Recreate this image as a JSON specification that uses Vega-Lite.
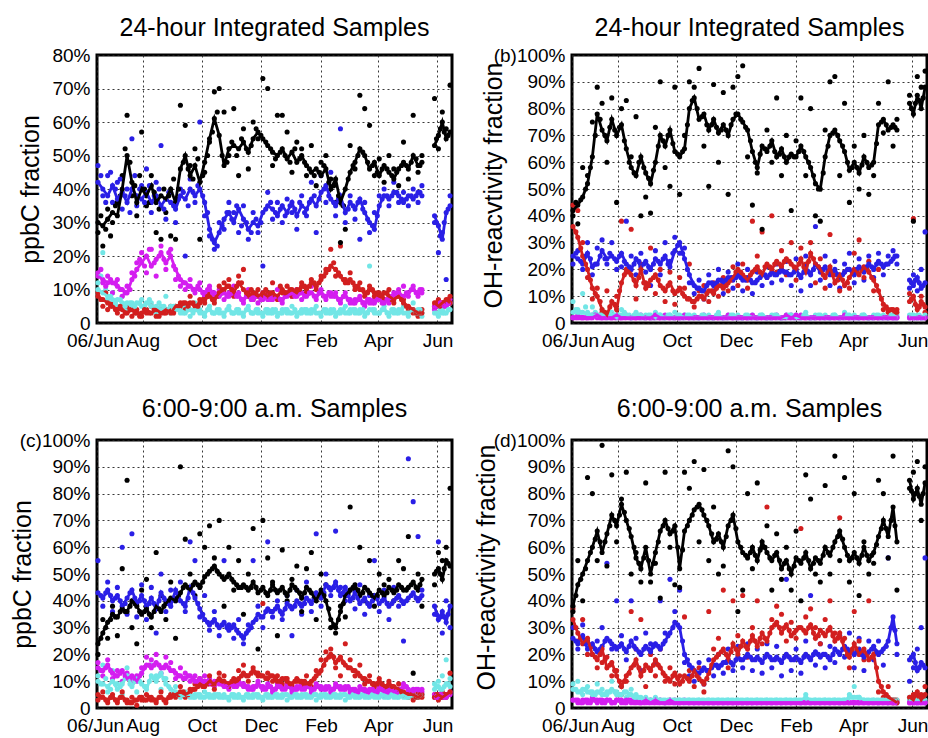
{
"$schema":"https://vega.github.io/schema/vega-lite/v6.json",
"padding":{"left":8,"top":14,"right":2,"bottom":2},
"background":"white",
"config":{
"font":"Liberation Sans",
"view":{"stroke":"black","strokeWidth":3},
"axis":{"labelFont":"Liberation Sans","labelFontSize":19,"labelColor":"#000","titleFont":"Liberation Sans","titleFontWeight":"normal","titleFontSize":25,"titleColor":"#000","grid":true,"gridColor":"#222","gridDash":[2,3],"gridWidth":1,"gridOpacity":0.9,"domain":false,"ticks":false},
"axisX":{"labelPadding":8,"labelFlush":false,"labelOverlap":false},
"axisY":{"labelPadding":7,"labelOverlap":false},
"title":{"font":"Liberation Sans","fontSize":25,"fontWeight":"normal","color":"#000","anchor":"middle","offset":5}
},
"datasets":{"v":[
{"p":"a","d":"2006-06-16","K":30,"B":42,"M":14,"R":8,"C":10,"k":27,"b":47,"m":15,"r":9,"c":12},
{"p":"a","d":"2006-06-21","K":29,"B":40,"M":13,"R":7,"C":9,"k":23,"b":38,"m":12,"r":5,"c":21},
{"p":"a","d":"2006-06-26","K":31,"B":38,"M":12,"R":6,"C":8,"k":34,"b":44,"m":14,"r":4,"c":7},
{"p":"a","d":"2006-07-01","K":33,"B":41,"M":12,"R":5,"C":7,"k":30,"b":36,"m":9,"r":6,"c":9},
{"p":"a","d":"2006-07-06","K":32,"B":37,"M":11,"R":4,"C":7,"k":36,"b":42,"m":13,"r":3,"c":5},
{"p":"a","d":"2006-07-11","K":40,"B":39,"M":10,"R":4,"C":6,"k":44,"b":34,"m":8,"r":2,"c":8},
{"p":"a","d":"2006-07-16","K":50,"B":36,"M":9,"R":3,"C":6,"k":62,"b":40,"m":11,"r":5,"c":4},
{"p":"a","d":"2006-07-21","K":42,"B":40,"M":13,"R":4,"C":5,"k":38,"b":55,"m":15,"r":2,"c":6},
{"p":"a","d":"2006-07-26","K":36,"B":38,"M":16,"R":3,"C":6,"k":32,"b":35,"m":18,"r":4,"c":3},
{"p":"a","d":"2006-07-31","K":40,"B":37,"M":18,"R":3,"C":5,"k":57,"b":41,"m":21,"r":2,"c":7},
{"p":"a","d":"2006-08-05","K":38,"B":39,"M":20,"R":4,"C":6,"k":35,"b":46,"m":15,"r":3,"c":4},
{"p":"a","d":"2006-08-10","K":41,"B":36,"M":17,"R":3,"C":5,"k":44,"b":33,"m":22,"r":5,"c":6},
{"p":"a","d":"2006-08-15","K":36,"B":38,"M":19,"R":4,"C":5,"k":27,"b":42,"m":14,"r":2,"c":3},
{"p":"a","d":"2006-08-20","K":38,"B":35,"M":21,"R":3,"C":4,"k":25,"b":53,"m":23,"r":4,"c":5},
{"p":"a","d":"2006-08-25","K":37,"B":37,"M":18,"R":4,"C":4,"k":33,"b":31,"m":16,"r":3,"c":8},
{"p":"a","d":"2006-08-30","K":40,"B":36,"M":20,"R":3,"C":5,"k":26,"b":39,"m":22,"r":5,"c":3},
{"p":"a","d":"2006-09-04","K":36,"B":34,"M":16,"R":5,"C":4,"k":25,"b":30,"m":13,"r":4,"c":5},
{"p":"a","d":"2006-09-09","K":46,"B":38,"M":13,"R":5,"C":4,"k":65,"b":40,"m":11,"r":6,"c":3},
{"p":"a","d":"2006-09-14","K":50,"B":37,"M":12,"R":6,"C":3,"k":59,"b":20,"m":10,"r":4,"c":5},
{"p":"a","d":"2006-09-19","K":44,"B":40,"M":11,"R":6,"C":4,"k":47,"b":43,"m":13,"r":8,"c":2},
{"p":"a","d":"2006-09-24","K":47,"B":38,"M":10,"R":5,"C":4,"k":52,"b":36,"m":9,"r":4,"c":6},
{"p":"a","d":"2006-09-29","K":42,"B":40,"M":10,"R":6,"C":3,"k":25,"b":60,"m":12,"r":7,"c":4},
{"p":"a","d":"2006-10-04","K":48,"B":36,"M":9,"R":7,"C":3,"k":45,"b":32,"m":8,"r":6,"c":2},
{"p":"a","d":"2006-10-09","K":55,"B":28,"M":10,"R":8,"C":4,"k":54,"b":26,"m":11,"r":9,"c":5},
{"p":"a","d":"2006-10-14","K":61,"B":24,"M":9,"R":7,"C":3,"k":69,"b":22,"m":8,"r":6,"c":3},
{"p":"a","d":"2006-10-19","K":56,"B":27,"M":8,"R":9,"C":3,"k":70,"b":30,"m":10,"r":11,"c":4},
{"p":"a","d":"2006-10-24","K":47,"B":31,"M":9,"R":10,"C":3,"k":63,"b":28,"m":7,"r":12,"c":2},
{"p":"a","d":"2006-10-29","K":52,"B":33,"M":8,"R":11,"C":4,"k":50,"b":36,"m":9,"r":13,"c":5},
{"p":"a","d":"2006-11-03","K":53,"B":30,"M":9,"R":9,"C":3,"k":64,"b":33,"m":11,"r":8,"c":3},
{"p":"a","d":"2006-11-08","K":52,"B":34,"M":8,"R":12,"C":3,"k":44,"b":27,"m":9,"r":14,"c":4},
{"p":"a","d":"2006-11-13","K":54,"B":31,"M":7,"R":10,"C":3,"k":58,"b":35,"m":6,"r":16,"c":2},
{"p":"a","d":"2006-11-18","K":51,"B":28,"M":8,"R":8,"C":4,"k":46,"b":25,"m":10,"r":9,"c":5},
{"p":"a","d":"2006-11-23","K":55,"B":30,"M":7,"R":9,"C":3,"k":60,"b":33,"m":8,"r":7,"c":3},
{"p":"a","d":"2006-11-28","K":57,"B":29,"M":8,"R":8,"C":3,"k":55,"b":27,"m":6,"r":10,"c":4},
{"p":"a","d":"2006-12-03","K":55,"B":33,"M":7,"R":9,"C":3,"k":73,"b":17,"m":9,"r":8,"c":2},
{"p":"a","d":"2006-12-08","K":53,"B":35,"M":8,"R":8,"C":3,"k":70,"b":39,"m":7,"r":9,"c":4},
{"p":"a","d":"2006-12-13","K":51,"B":34,"M":7,"R":9,"C":4,"k":47,"b":31,"m":8,"r":12,"c":3},
{"p":"a","d":"2006-12-18","K":50,"B":32,"M":8,"R":8,"C":3,"k":62,"b":36,"m":10,"r":7,"c":2},
{"p":"a","d":"2006-12-23","K":52,"B":35,"M":7,"R":10,"C":3,"k":62,"b":30,"m":6,"r":9,"c":4},
{"p":"a","d":"2006-12-28","K":49,"B":33,"M":8,"R":9,"C":4,"k":57,"b":37,"m":9,"r":11,"c":3},
{"p":"a","d":"2007-01-02","K":51,"B":36,"M":9,"R":10,"C":3,"k":45,"b":33,"m":8,"r":8,"c":5},
{"p":"a","d":"2007-01-07","K":48,"B":32,"M":8,"R":9,"C":3,"k":54,"b":28,"m":10,"r":10,"c":2},
{"p":"a","d":"2007-01-12","K":50,"B":35,"M":9,"R":11,"C":4,"k":52,"b":38,"m":7,"r":12,"c":3},
{"p":"a","d":"2007-01-17","K":47,"B":34,"M":8,"R":10,"C":3,"k":44,"b":32,"m":9,"r":9,"c":4},
{"p":"a","d":"2007-01-22","K":45,"B":37,"M":9,"R":12,"C":4,"k":53,"b":42,"m":11,"r":13,"c":3},
{"p":"a","d":"2007-01-27","K":46,"B":35,"M":8,"R":11,"C":3,"k":41,"b":27,"m":7,"r":10,"c":5},
{"p":"a","d":"2007-02-01","K":44,"B":39,"M":9,"R":13,"C":3,"k":48,"b":44,"m":10,"r":14,"c":2},
{"p":"a","d":"2007-02-06","K":46,"B":41,"M":8,"R":15,"C":4,"k":50,"b":36,"m":7,"r":16,"c":3},
{"p":"a","d":"2007-02-11","K":40,"B":37,"M":9,"R":17,"C":3,"k":43,"b":45,"m":8,"r":22,"c":4},
{"p":"a","d":"2007-02-16","K":43,"B":35,"M":8,"R":16,"C":3,"k":36,"b":32,"m":9,"r":14,"c":2},
{"p":"a","d":"2007-02-21","K":36,"B":38,"M":7,"R":14,"C":4,"k":24,"b":58,"m":6,"r":23,"c":3},
{"p":"a","d":"2007-02-26","K":40,"B":33,"M":8,"R":12,"C":3,"k":28,"b":30,"m":9,"r":13,"c":5},
{"p":"a","d":"2007-03-03","K":45,"B":36,"M":7,"R":13,"C":4,"k":53,"b":38,"m":6,"r":15,"c":3},
{"p":"a","d":"2007-03-08","K":48,"B":34,"M":6,"R":11,"C":3,"k":46,"b":31,"m":7,"r":10,"c":4},
{"p":"a","d":"2007-03-13","K":52,"B":37,"M":7,"R":10,"C":4,"k":68,"b":25,"m":8,"r":12,"c":3},
{"p":"a","d":"2007-03-18","K":50,"B":33,"M":6,"R":9,"C":3,"k":64,"b":36,"m":5,"r":8,"c":2},
{"p":"a","d":"2007-03-23","K":46,"B":30,"M":7,"R":10,"C":4,"k":59,"b":27,"m":6,"r":11,"c":17},
{"p":"a","d":"2007-03-28","K":48,"B":28,"M":6,"R":9,"C":3,"k":44,"b":33,"m":7,"r":8,"c":4},
{"p":"a","d":"2007-04-02","K":44,"B":35,"M":7,"R":8,"C":3,"k":49,"b":38,"m":8,"r":9,"c":3},
{"p":"a","d":"2007-04-07","K":47,"B":38,"M":6,"R":9,"C":4,"k":42,"b":40,"m":7,"r":7,"c":5},
{"p":"a","d":"2007-04-12","K":45,"B":37,"M":7,"R":8,"C":3,"k":50,"b":35,"m":6,"r":10,"c":2},
{"p":"a","d":"2007-04-17","K":43,"B":39,"M":8,"R":7,"C":3,"k":46,"b":42,"m":9,"r":6,"c":4},
{"p":"a","d":"2007-04-22","K":46,"B":38,"M":9,"R":8,"C":4,"k":41,"b":36,"m":10,"r":9,"c":3},
{"p":"a","d":"2007-04-27","K":48,"B":36,"M":8,"R":6,"C":3,"k":54,"b":39,"m":11,"r":7,"c":5},
{"p":"a","d":"2007-05-02","K":46,"B":38,"M":9,"R":5,"C":3,"k":43,"b":35,"m":8,"r":4,"c":2},
{"p":"a","d":"2007-05-07","K":50,"B":37,"M":10,"R":4,"C":4,"k":62,"b":40,"m":11,"r":3,"c":6},
{"p":"a","d":"2007-05-12","K":47,"B":39,"M":9,"R":3,"C":3,"k":45,"b":36,"m":8,"r":2,"c":4},
{"p":"a","d":"2007-05-16","K":48,"B":38,"M":10,"R":3,"C":3,"k":50,"b":41,"m":9,"r":4,"c":2},
{"p":"a","d":"2007-05-29","g":1,"K":53,"B":32,"M":5,"R":6,"C":3,"k":67,"b":30,"m":4,"r":5,"c":4},
{"p":"a","d":"2007-06-02","g":1,"K":56,"B":29,"M":5,"R":5,"C":3,"k":52,"b":21,"m":6,"r":7,"c":2},
{"p":"a","d":"2007-06-06","g":1,"K":60,"B":25,"M":6,"R":6,"C":4,"k":63,"b":27,"m":5,"r":5,"c":3},
{"p":"a","d":"2007-06-10","g":1,"K":55,"B":33,"M":5,"R":7,"C":3,"k":58,"b":13,"m":6,"r":6,"c":5},
{"p":"a","d":"2007-06-14","g":1,"K":57,"B":35,"M":6,"R":6,"C":4,"k":71,"b":38,"m":7,"r":8,"c":6},
{"p":"a","d":"2006-06-19","k":32,"b":44,"m":16,"r":7,"c":14},
{"p":"a","d":"2006-06-24","k":28,"b":36,"m":11,"r":9,"c":10},
{"p":"a","d":"2006-06-29","k":26,"b":45,"m":13,"r":5,"c":8},
{"p":"a","d":"2006-07-04","k":35,"b":40,"m":12,"r":4,"c":6},
{"p":"a","d":"2006-07-09","k":38,"b":43,"m":10,"r":5,"c":7},
{"p":"a","d":"2006-07-14","k":52,"b":38,"m":9,"r":3,"c":5},
{"p":"a","d":"2006-07-19","k":48,"b":33,"m":10,"r":4,"c":6},
{"p":"a","d":"2006-07-24","k":41,"b":44,"m":14,"r":3,"c":5},
{"p":"a","d":"2006-07-29","k":44,"b":40,"m":19,"r":2,"c":6},
{"p":"a","d":"2006-08-03","k":40,"b":36,"m":17,"r":4,"c":5},
{"p":"a","d":"2006-08-08","k":36,"b":41,"m":22,"r":3,"c":7},
{"p":"a","d":"2006-08-13","k":39,"b":38,"m":18,"r":4,"c":4},
{"p":"a","d":"2006-08-18","k":34,"b":40,"m":20,"r":2,"c":6},
{"p":"a","d":"2006-08-23","k":40,"b":34,"m":19,"r":3,"c":5},
{"p":"a","d":"2006-08-28","k":38,"b":39,"m":21,"r":4,"c":4},
{"p":"a","d":"2006-09-02","k":43,"b":35,"m":17,"r":3,"c":5},
{"p":"a","d":"2006-09-07","k":40,"b":37,"m":14,"r":5,"c":4},
{"p":"a","d":"2006-09-12","k":48,"b":39,"m":12,"r":6,"c":3},
{"p":"a","d":"2006-09-17","k":46,"b":35,"m":11,"r":5,"c":4},
{"p":"a","d":"2006-09-22","k":43,"b":39,"m":10,"r":6,"c":3},
{"p":"a","d":"2006-09-27","k":49,"b":41,"m":11,"r":5,"c":4},
{"p":"a","d":"2006-10-02","k":44,"b":38,"m":9,"r":7,"c":3},
{"p":"a","d":"2006-10-07","k":50,"b":33,"m":10,"r":8,"c":4},
{"p":"a","d":"2006-10-12","k":57,"b":25,"m":9,"r":7,"c":3},
{"p":"a","d":"2006-10-17","k":63,"b":23,"m":8,"r":8,"c":4},
{"p":"a","d":"2006-10-22","k":50,"b":29,"m":9,"r":10,"c":3},
{"p":"a","d":"2006-10-27","k":48,"b":33,"m":8,"r":11,"c":4},
{"p":"a","d":"2006-11-01","k":54,"b":31,"m":9,"r":10,"c":3},
{"p":"a","d":"2006-11-06","k":50,"b":35,"m":8,"r":11,"c":4},
{"p":"a","d":"2006-11-11","k":55,"b":29,"m":7,"r":12,"c":3},
{"p":"a","d":"2006-11-16","k":52,"b":30,"m":8,"r":9,"c":4},
{"p":"a","d":"2006-11-21","k":53,"b":27,"m":7,"r":10,"c":3},
{"p":"a","d":"2006-11-26","k":58,"b":31,"m":8,"r":9,"c":4},
{"p":"a","d":"2006-12-01","k":56,"b":30,"m":7,"r":8,"c":3},
{"p":"a","d":"2006-12-06","k":54,"b":34,"m":8,"r":10,"c":4},
{"p":"a","d":"2006-12-11","k":52,"b":36,"m":7,"r":9,"c":3},
{"p":"a","d":"2006-12-16","k":49,"b":33,"m":8,"r":8,"c":4},
{"p":"a","d":"2006-12-21","k":51,"b":34,"m":7,"r":11,"c":3},
{"p":"a","d":"2006-12-26","k":50,"b":32,"m":8,"r":9,"c":4},
{"p":"a","d":"2006-12-31","k":48,"b":35,"m":9,"r":10,"c":3},
{"p":"a","d":"2007-01-05","k":52,"b":34,"m":8,"r":9,"c":4},
{"p":"a","d":"2007-01-10","k":49,"b":36,"m":9,"r":10,"c":3},
{"p":"a","d":"2007-01-15","k":48,"b":33,"m":8,"r":11,"c":4},
{"p":"a","d":"2007-01-20","k":46,"b":36,"m":9,"r":11,"c":3},
{"p":"a","d":"2007-01-25","k":44,"b":38,"m":8,"r":12,"c":4},
{"p":"a","d":"2007-01-30","k":45,"b":37,"m":9,"r":12,"c":3},
{"p":"a","d":"2007-02-04","k":47,"b":40,"m":8,"r":14,"c":4},
{"p":"a","d":"2007-02-09","k":42,"b":38,"m":9,"r":16,"c":3},
{"p":"a","d":"2007-02-14","k":41,"b":36,"m":8,"r":18,"c":4},
{"p":"a","d":"2007-02-19","k":38,"b":37,"m":7,"r":15,"c":3},
{"p":"a","d":"2007-02-24","k":35,"b":35,"m":8,"r":13,"c":4},
{"p":"a","d":"2007-03-01","k":43,"b":34,"m":7,"r":12,"c":3},
{"p":"a","d":"2007-03-06","k":47,"b":35,"m":6,"r":12,"c":4},
{"p":"a","d":"2007-03-11","k":50,"b":36,"m":7,"r":11,"c":3},
{"p":"a","d":"2007-03-16","k":51,"b":34,"m":6,"r":10,"c":4},
{"p":"a","d":"2007-03-21","k":48,"b":31,"m":7,"r":9,"c":3},
{"p":"a","d":"2007-03-26","k":47,"b":29,"m":6,"r":10,"c":4},
{"p":"a","d":"2007-03-31","k":45,"b":32,"m":7,"r":9,"c":3},
{"p":"a","d":"2007-04-05","k":46,"b":37,"m":6,"r":8,"c":4},
{"p":"a","d":"2007-04-10","k":46,"b":38,"m":7,"r":9,"c":3},
{"p":"a","d":"2007-04-15","k":44,"b":38,"m":8,"r":7,"c":4},
{"p":"a","d":"2007-04-20","k":45,"b":39,"m":9,"r":8,"c":3},
{"p":"a","d":"2007-04-25","k":47,"b":37,"m":8,"r":7,"c":4},
{"p":"a","d":"2007-04-30","k":47,"b":37,"m":9,"r":5,"c":3},
{"p":"a","d":"2007-05-05","k":48,"b":38,"m":10,"r":4,"c":4},
{"p":"a","d":"2007-05-10","k":49,"b":38,"m":9,"r":3,"c":3},
{"p":"a","d":"2007-05-14","k":47,"b":39,"m":10,"r":3,"c":4},
{"p":"a","d":"2007-05-31","k":55,"b":30,"m":5,"r":6,"c":3},
{"p":"a","d":"2007-06-04","k":58,"b":26,"m":6,"r":5,"c":4},
{"p":"a","d":"2007-06-08","k":57,"b":30,"m":5,"r":6,"c":3},
{"p":"a","d":"2007-06-12","k":56,"b":34,"m":6,"r":7,"c":4},
{"p":"b","d":"2006-06-16","K":42,"B":25,"R":36,"M":2,"C":4,"k":40,"b":22,"r":44,"m":2,"c":8},
{"p":"b","d":"2006-06-21","K":44,"B":24,"R":32,"M":2,"C":4,"k":37,"b":27,"r":42,"m":3,"c":5},
{"p":"b","d":"2006-06-26","K":47,"B":22,"R":25,"M":2,"C":4,"k":58,"b":20,"r":30,"m":2,"c":11},
{"p":"b","d":"2006-07-01","K":52,"B":26,"R":20,"M":2,"C":3,"k":55,"b":30,"r":17,"m":2,"c":4},
{"p":"b","d":"2006-07-06","K":62,"B":21,"R":13,"M":2,"C":3,"k":75,"b":18,"r":9,"m":3,"c":6},
{"p":"b","d":"2006-07-11","K":78,"B":22,"R":10,"M":3,"C":3,"k":88,"b":28,"r":13,"m":2,"c":3},
{"p":"b","d":"2006-07-16","K":72,"B":27,"R":5,"M":2,"C":3,"k":82,"b":31,"r":4,"m":2,"c":5},
{"p":"b","d":"2006-07-21","K":68,"B":24,"R":3,"M":2,"C":3,"k":60,"b":22,"r":12,"m":3,"c":2},
{"p":"b","d":"2006-07-26","K":76,"B":25,"R":8,"M":2,"C":3,"k":84,"b":30,"r":3,"m":2,"c":4},
{"p":"b","d":"2006-07-31","K":70,"B":23,"R":5,"M":3,"C":2,"k":45,"b":20,"r":10,"m":2,"c":3},
{"p":"b","d":"2006-08-05","K":74,"B":26,"R":15,"M":2,"C":3,"k":80,"b":21,"r":38,"m":2,"c":5},
{"p":"b","d":"2006-08-10","K":65,"B":22,"R":20,"M":2,"C":3,"k":83,"b":38,"r":19,"m":3,"c":3},
{"p":"b","d":"2006-08-15","K":58,"B":20,"R":18,"M":2,"C":2,"k":62,"b":25,"r":35,"m":2,"c":2},
{"p":"b","d":"2006-08-20","K":55,"B":24,"R":14,"M":2,"C":3,"k":77,"b":18,"r":9,"m":2,"c":4},
{"p":"b","d":"2006-08-25","K":62,"B":21,"R":20,"M":2,"C":3,"k":40,"b":26,"r":22,"m":3,"c":2},
{"p":"b","d":"2006-08-30","K":56,"B":23,"R":13,"M":2,"C":2,"k":47,"b":19,"r":15,"m":2,"c":3},
{"p":"b","d":"2006-09-04","K":52,"B":20,"R":16,"M":2,"C":3,"k":41,"b":14,"r":28,"m":2,"c":2},
{"p":"b","d":"2006-09-09","K":60,"B":24,"R":18,"M":3,"C":2,"k":73,"b":27,"r":11,"m":2,"c":4},
{"p":"b","d":"2006-09-14","K":70,"B":22,"R":14,"M":2,"C":3,"k":90,"b":18,"r":20,"m":2,"c":3},
{"p":"b","d":"2006-09-19","K":66,"B":25,"R":12,"M":2,"C":2,"k":58,"b":30,"r":8,"m":3,"c":2},
{"p":"b","d":"2006-09-24","K":72,"B":21,"R":15,"M":2,"C":3,"k":51,"b":23,"r":19,"m":2,"c":3},
{"p":"b","d":"2006-09-29","K":64,"B":27,"R":11,"M":2,"C":2,"k":88,"b":32,"r":7,"m":2,"c":4},
{"p":"b","d":"2006-10-04","K":62,"B":30,"R":13,"M":2,"C":3,"k":48,"b":26,"r":17,"m":2,"c":2},
{"p":"b","d":"2006-10-09","K":65,"B":24,"R":10,"M":2,"C":2,"k":70,"b":28,"r":13,"m":3,"c":3},
{"p":"b","d":"2006-10-14","K":80,"B":18,"R":9,"M":2,"C":3,"k":90,"b":15,"r":22,"m":2,"c":2},
{"p":"b","d":"2006-10-19","K":84,"B":14,"R":8,"M":2,"C":2,"k":88,"b":11,"r":6,"m":2,"c":3},
{"p":"b","d":"2006-10-24","K":76,"B":13,"R":10,"M":2,"C":2,"k":95,"b":16,"r":12,"m":2,"c":2},
{"p":"b","d":"2006-10-29","K":78,"B":12,"R":9,"M":2,"C":3,"k":66,"b":9,"r":14,"m":3,"c":2},
{"p":"b","d":"2006-11-03","K":72,"B":15,"R":12,"M":2,"C":2,"k":51,"b":18,"r":8,"m":2,"c":3},
{"p":"b","d":"2006-11-08","K":76,"B":14,"R":11,"M":2,"C":2,"k":89,"b":12,"r":15,"m":2,"c":2},
{"p":"b","d":"2006-11-13","K":71,"B":16,"R":14,"M":2,"C":3,"k":60,"b":20,"r":10,"m":2,"c":4},
{"p":"b","d":"2006-11-18","K":74,"B":15,"R":13,"M":2,"C":2,"k":86,"b":11,"r":17,"m":2,"c":2},
{"p":"b","d":"2006-11-23","K":70,"B":17,"R":15,"M":2,"C":2,"k":48,"b":19,"r":12,"m":3,"c":3},
{"p":"b","d":"2006-11-28","K":76,"B":16,"R":17,"M":2,"C":3,"k":88,"b":13,"r":21,"m":2,"c":2},
{"p":"b","d":"2006-12-03","K":78,"B":18,"R":20,"M":2,"C":2,"k":92,"b":22,"r":14,"m":2,"c":3},
{"p":"b","d":"2006-12-08","K":75,"B":16,"R":18,"M":2,"C":2,"k":96,"b":12,"r":22,"m":2,"c":2},
{"p":"b","d":"2006-12-13","K":72,"B":17,"R":16,"M":2,"C":3,"k":62,"b":20,"r":13,"m":2,"c":2},
{"p":"b","d":"2006-12-18","K":64,"B":15,"R":19,"M":2,"C":2,"k":44,"b":11,"r":38,"m":3,"c":3},
{"p":"b","d":"2006-12-23","K":58,"B":16,"R":21,"M":2,"C":2,"k":56,"b":19,"r":25,"m":2,"c":2},
{"p":"b","d":"2006-12-28","K":66,"B":18,"R":18,"M":2,"C":3,"k":35,"b":14,"r":34,"m":2,"c":3},
{"p":"b","d":"2007-01-02","K":64,"B":17,"R":22,"M":2,"C":2,"k":72,"b":21,"r":17,"m":2,"c":2},
{"p":"b","d":"2007-01-07","K":68,"B":19,"R":20,"M":2,"C":2,"k":60,"b":15,"r":40,"m":2,"c":3},
{"p":"b","d":"2007-01-12","K":62,"B":18,"R":23,"M":2,"C":3,"k":84,"b":22,"r":19,"m":3,"c":2},
{"p":"b","d":"2007-01-17","K":65,"B":20,"R":21,"M":2,"C":2,"k":55,"b":16,"r":27,"m":2,"c":2},
{"p":"b","d":"2007-01-22","K":60,"B":19,"R":24,"M":3,"C":2,"k":70,"b":23,"r":18,"m":2,"c":3},
{"p":"b","d":"2007-01-27","K":63,"B":18,"R":22,"M":2,"C":3,"k":42,"b":14,"r":30,"m":3,"c":2},
{"p":"b","d":"2007-02-01","K":62,"B":20,"R":20,"M":3,"C":2,"k":68,"b":24,"r":16,"m":2,"c":3},
{"p":"b","d":"2007-02-06","K":66,"B":17,"R":24,"M":2,"C":2,"k":84,"b":12,"r":28,"m":3,"c":2},
{"p":"b","d":"2007-02-11","K":62,"B":21,"R":19,"M":2,"C":3,"k":55,"b":25,"r":22,"m":2,"c":4},
{"p":"b","d":"2007-02-16","K":58,"B":18,"R":26,"M":2,"C":2,"k":80,"b":14,"r":30,"m":2,"c":2},
{"p":"b","d":"2007-02-21","K":52,"B":22,"R":22,"M":2,"C":2,"k":40,"b":36,"r":15,"m":2,"c":3},
{"p":"b","d":"2007-02-26","K":50,"B":19,"R":20,"M":2,"C":3,"k":38,"b":16,"r":24,"m":2,"c":2},
{"p":"b","d":"2007-03-03","K":62,"B":21,"R":17,"M":2,"C":2,"k":72,"b":25,"r":13,"m":2,"c":3},
{"p":"b","d":"2007-03-08","K":70,"B":18,"R":21,"M":2,"C":2,"k":90,"b":14,"r":33,"m":2,"c":2},
{"p":"b","d":"2007-03-13","K":72,"B":20,"R":15,"M":2,"C":3,"k":92,"b":23,"r":18,"m":2,"c":3},
{"p":"b","d":"2007-03-18","K":68,"B":17,"R":18,"M":2,"C":2,"k":55,"b":13,"r":12,"m":2,"c":2},
{"p":"b","d":"2007-03-23","K":64,"B":19,"R":14,"M":2,"C":2,"k":82,"b":22,"r":19,"m":3,"c":4},
{"p":"b","d":"2007-03-28","K":57,"B":20,"R":17,"M":2,"C":3,"k":45,"b":26,"r":13,"m":2,"c":2},
{"p":"b","d":"2007-04-02","K":60,"B":18,"R":20,"M":2,"C":2,"k":66,"b":15,"r":26,"m":2,"c":3},
{"p":"b","d":"2007-04-07","K":56,"B":21,"R":18,"M":2,"C":2,"k":50,"b":24,"r":31,"m":2,"c":2},
{"p":"b","d":"2007-04-12","K":62,"B":19,"R":21,"M":2,"C":3,"k":70,"b":16,"r":17,"m":2,"c":3},
{"p":"b","d":"2007-04-17","K":58,"B":22,"R":19,"M":2,"C":2,"k":48,"b":25,"r":23,"m":2,"c":2},
{"p":"b","d":"2007-04-22","K":60,"B":20,"R":16,"M":2,"C":2,"k":55,"b":17,"r":12,"m":2,"c":3},
{"p":"b","d":"2007-04-27","K":74,"B":23,"R":12,"M":2,"C":3,"k":82,"b":26,"r":20,"m":2,"c":2},
{"p":"b","d":"2007-05-02","K":76,"B":21,"R":7,"M":2,"C":2,"k":71,"b":18,"r":5,"m":2,"c":3},
{"p":"b","d":"2007-05-07","K":72,"B":22,"R":5,"M":2,"C":2,"k":90,"b":25,"r":4,"m":2,"c":2},
{"p":"b","d":"2007-05-12","K":74,"B":24,"R":5,"M":2,"C":3,"k":66,"b":27,"r":3,"m":2,"c":2},
{"p":"b","d":"2007-05-16","K":72,"B":25,"R":4,"M":2,"C":2,"k":76,"b":22,"r":5,"m":2,"c":3},
{"p":"b","d":"2007-05-29","g":1,"K":82,"B":16,"R":8,"M":2,"C":2,"k":85,"b":13,"r":11,"m":2,"c":3},
{"p":"b","d":"2007-06-02","g":1,"K":78,"B":14,"R":10,"M":2,"C":3,"k":38,"b":18,"r":39,"m":2,"c":2},
{"p":"b","d":"2007-06-06","g":1,"K":85,"B":17,"R":5,"M":2,"C":2,"k":92,"b":12,"r":6,"m":2,"c":3},
{"p":"b","d":"2007-06-10","g":1,"K":80,"B":13,"R":8,"M":2,"C":2,"k":88,"b":20,"r":10,"m":2,"c":2},
{"p":"b","d":"2007-06-14","g":1,"K":88,"B":15,"R":6,"M":2,"C":3,"k":94,"b":34,"r":4,"m":2,"c":2},
{"p":"b","d":"2006-06-19","k":45,"b":26,"r":34,"m":2,"c":5},
{"p":"b","d":"2006-06-24","k":46,"b":23,"r":28,"m":2,"c":4},
{"p":"b","d":"2006-06-29","k":50,"b":25,"r":22,"m":2,"c":6},
{"p":"b","d":"2006-07-04","k":58,"b":24,"r":16,"m":2,"c":3},
{"p":"b","d":"2006-07-09","k":70,"b":22,"r":11,"m":3,"c":4},
{"p":"b","d":"2006-07-14","k":76,"b":25,"r":8,"m":2,"c":3},
{"p":"b","d":"2006-07-19","k":70,"b":24,"r":4,"m":2,"c":3},
{"p":"b","d":"2006-07-24","k":73,"b":26,"r":6,"m":2,"c":4},
{"p":"b","d":"2006-07-29","k":72,"b":24,"r":7,"m":2,"c":3},
{"p":"b","d":"2006-08-03","k":73,"b":25,"r":12,"m":2,"c":3},
{"p":"b","d":"2006-08-08","k":68,"b":23,"r":18,"m":2,"c":4},
{"p":"b","d":"2006-08-13","k":60,"b":21,"r":19,"m":2,"c":3},
{"p":"b","d":"2006-08-18","k":56,"b":22,"r":16,"m":2,"c":3},
{"p":"b","d":"2006-08-23","k":60,"b":23,"r":17,"m":2,"c":3},
{"p":"b","d":"2006-08-28","k":58,"b":22,"r":15,"m":2,"c":2},
{"p":"b","d":"2006-09-02","k":54,"b":21,"r":14,"m":2,"c":3},
{"p":"b","d":"2006-09-07","k":57,"b":22,"r":17,"m":2,"c":2},
{"p":"b","d":"2006-09-12","k":66,"b":23,"r":16,"m":2,"c":3},
{"p":"b","d":"2006-09-17","k":68,"b":24,"r":13,"m":2,"c":2},
{"p":"b","d":"2006-09-22","k":70,"b":22,"r":14,"m":2,"c":3},
{"p":"b","d":"2006-09-27","k":67,"b":26,"r":12,"m":2,"c":2},
{"p":"b","d":"2006-10-02","k":63,"b":29,"r":12,"m":2,"c":3},
{"p":"b","d":"2006-10-07","k":64,"b":26,"r":11,"m":2,"c":2},
{"p":"b","d":"2006-10-12","k":74,"b":20,"r":9,"m":2,"c":3},
{"p":"b","d":"2006-10-17","k":83,"b":15,"r":8,"m":2,"c":2},
{"p":"b","d":"2006-10-22","k":80,"b":13,"r":9,"m":2,"c":2},
{"p":"b","d":"2006-10-27","k":77,"b":12,"r":10,"m":2,"c":3},
{"p":"b","d":"2006-11-01","k":74,"b":14,"r":11,"m":2,"c":2},
{"p":"b","d":"2006-11-06","k":74,"b":15,"r":12,"m":2,"c":2},
{"p":"b","d":"2006-11-11","k":73,"b":15,"r":13,"m":2,"c":3},
{"p":"b","d":"2006-11-16","k":72,"b":16,"r":14,"m":2,"c":2},
{"p":"b","d":"2006-11-21","k":72,"b":16,"r":14,"m":2,"c":2},
{"p":"b","d":"2006-11-26","k":74,"b":17,"r":16,"m":2,"c":3},
{"p":"b","d":"2006-12-01","k":78,"b":17,"r":19,"m":2,"c":2},
{"p":"b","d":"2006-12-06","k":76,"b":17,"r":19,"m":2,"c":2},
{"p":"b","d":"2006-12-11","k":73,"b":16,"r":17,"m":2,"c":3},
{"p":"b","d":"2006-12-16","k":68,"b":16,"r":18,"m":2,"c":2},
{"p":"b","d":"2006-12-21","k":60,"b":15,"r":20,"m":2,"c":2},
{"p":"b","d":"2006-12-26","k":63,"b":17,"r":19,"m":2,"c":3},
{"p":"b","d":"2006-12-31","k":65,"b":18,"r":21,"m":2,"c":2},
{"p":"b","d":"2007-01-05","k":66,"b":18,"r":21,"m":2,"c":2},
{"p":"b","d":"2007-01-10","k":64,"b":18,"r":22,"m":2,"c":3},
{"p":"b","d":"2007-01-15","k":63,"b":19,"r":22,"m":2,"c":2},
{"p":"b","d":"2007-01-20","k":62,"b":19,"r":23,"m":2,"c":2},
{"p":"b","d":"2007-01-25","k":62,"b":18,"r":23,"m":2,"c":3},
{"p":"b","d":"2007-01-30","k":62,"b":19,"r":21,"m":2,"c":2},
{"p":"b","d":"2007-02-04","k":64,"b":18,"r":22,"m":2,"c":2},
{"p":"b","d":"2007-02-09","k":64,"b":19,"r":21,"m":2,"c":3},
{"p":"b","d":"2007-02-14","k":60,"b":19,"r":23,"m":2,"c":2},
{"p":"b","d":"2007-02-19","k":55,"b":20,"r":24,"m":2,"c":2},
{"p":"b","d":"2007-02-24","k":50,"b":21,"r":21,"m":2,"c":3},
{"p":"b","d":"2007-03-01","k":56,"b":20,"r":18,"m":2,"c":2},
{"p":"b","d":"2007-03-06","k":66,"b":19,"r":19,"m":2,"c":2},
{"p":"b","d":"2007-03-11","k":71,"b":19,"r":18,"m":2,"c":3},
{"p":"b","d":"2007-03-16","k":70,"b":18,"r":16,"m":2,"c":2},
{"p":"b","d":"2007-03-21","k":66,"b":18,"r":16,"m":2,"c":2},
{"p":"b","d":"2007-03-26","k":60,"b":20,"r":15,"m":2,"c":3},
{"p":"b","d":"2007-03-31","k":58,"b":19,"r":19,"m":2,"c":2},
{"p":"b","d":"2007-04-05","k":58,"b":20,"r":19,"m":2,"c":2},
{"p":"b","d":"2007-04-10","k":59,"b":20,"r":20,"m":2,"c":3},
{"p":"b","d":"2007-04-15","k":60,"b":21,"r":20,"m":2,"c":2},
{"p":"b","d":"2007-04-20","k":59,"b":21,"r":17,"m":2,"c":2},
{"p":"b","d":"2007-04-25","k":67,"b":22,"r":14,"m":2,"c":3},
{"p":"b","d":"2007-04-30","k":75,"b":22,"r":9,"m":2,"c":2},
{"p":"b","d":"2007-05-05","k":74,"b":22,"r":6,"m":2,"c":2},
{"p":"b","d":"2007-05-10","k":73,"b":23,"r":5,"m":2,"c":3},
{"p":"b","d":"2007-05-14","k":73,"b":25,"r":4,"m":2,"c":2},
{"p":"b","d":"2007-05-31","k":80,"b":15,"r":9,"m":2,"c":3},
{"p":"b","d":"2007-06-04","k":82,"b":16,"r":7,"m":2,"c":2},
{"p":"b","d":"2007-06-08","k":83,"b":15,"r":6,"m":2,"c":3},
{"p":"b","d":"2007-06-12","k":84,"b":14,"r":7,"m":2,"c":2},
{"p":"c","d":"2006-06-16","K":24,"B":43,"M":15,"R":5,"C":10,"k":20,"b":55,"m":17,"r":3,"c":12},
{"p":"c","d":"2006-06-21","K":28,"B":41,"M":14,"R":4,"C":9,"k":33,"b":38,"m":12,"r":6,"c":16},
{"p":"c","d":"2006-06-26","K":32,"B":44,"M":16,"R":3,"C":8,"k":26,"b":47,"m":18,"r":2,"c":6},
{"p":"c","d":"2006-07-01","K":35,"B":40,"M":13,"R":4,"C":10,"k":38,"b":36,"m":11,"r":5,"c":14},
{"p":"c","d":"2006-07-06","K":34,"B":42,"M":12,"R":3,"C":7,"k":27,"b":45,"m":14,"r":2,"c":9},
{"p":"c","d":"2006-07-11","K":37,"B":38,"M":14,"R":4,"C":9,"k":52,"b":60,"m":10,"r":6,"c":5},
{"p":"c","d":"2006-07-16","K":36,"B":41,"M":11,"R":3,"C":12,"k":85,"b":35,"m":13,"r":2,"c":15},
{"p":"c","d":"2006-07-21","K":40,"B":44,"M":12,"R":2,"C":8,"k":30,"b":65,"m":9,"r":4,"c":10},
{"p":"c","d":"2006-07-26","K":38,"B":39,"M":10,"R":3,"C":11,"k":24,"b":34,"m":12,"r":1,"c":6},
{"p":"c","d":"2006-07-31","K":35,"B":42,"M":13,"R":4,"C":9,"k":44,"b":46,"m":15,"r":3,"c":13},
{"p":"c","d":"2006-08-05","K":37,"B":38,"M":16,"R":3,"C":7,"k":48,"b":33,"m":19,"r":5,"c":8},
{"p":"c","d":"2006-08-10","K":34,"B":41,"M":15,"R":4,"C":12,"k":30,"b":45,"m":18,"r":3,"c":16},
{"p":"c","d":"2006-08-15","K":38,"B":37,"M":17,"R":3,"C":10,"k":58,"b":28,"m":20,"r":2,"c":12},
{"p":"c","d":"2006-08-20","K":36,"B":43,"M":15,"R":4,"C":13,"k":42,"b":50,"m":13,"r":6,"c":7},
{"p":"c","d":"2006-08-25","K":39,"B":40,"M":16,"R":3,"C":9,"k":33,"b":36,"m":19,"r":2,"c":11},
{"p":"c","d":"2006-08-30","K":41,"B":38,"M":14,"R":4,"C":7,"k":47,"b":44,"m":17,"r":5,"c":5},
{"p":"c","d":"2006-09-04","K":40,"B":44,"M":13,"R":5,"C":6,"k":26,"b":40,"m":11,"r":4,"c":8},
{"p":"c","d":"2006-09-09","K":43,"B":40,"M":12,"R":6,"C":5,"k":90,"b":47,"m":15,"r":8,"c":4},
{"p":"c","d":"2006-09-14","K":46,"B":38,"M":11,"R":5,"C":5,"k":63,"b":36,"m":13,"r":4,"c":6},
{"p":"c","d":"2006-09-19","K":44,"B":45,"M":12,"R":6,"C":5,"k":50,"b":62,"m":10,"r":7,"c":4},
{"p":"c","d":"2006-09-24","K":47,"B":41,"M":10,"R":7,"C":4,"k":42,"b":55,"m":12,"r":9,"c":5},
{"p":"c","d":"2006-09-29","K":45,"B":37,"M":11,"R":9,"C":5,"k":65,"b":34,"m":9,"r":11,"c":4},
{"p":"c","d":"2006-10-04","K":49,"B":33,"M":10,"R":8,"C":4,"k":60,"b":42,"m":12,"r":10,"c":6},
{"p":"c","d":"2006-10-09","K":51,"B":31,"M":9,"R":10,"C":5,"k":68,"b":29,"m":11,"r":12,"c":4},
{"p":"c","d":"2006-10-14","K":53,"B":33,"M":10,"R":9,"C":4,"k":56,"b":36,"m":8,"r":7,"c":5},
{"p":"c","d":"2006-10-19","K":50,"B":30,"M":9,"R":11,"C":5,"k":70,"b":27,"m":10,"r":13,"c":4},
{"p":"c","d":"2006-10-24","K":48,"B":32,"M":8,"R":10,"C":4,"k":38,"b":55,"m":9,"r":12,"c":5},
{"p":"c","d":"2006-10-29","K":50,"B":29,"M":9,"R":9,"C":4,"k":60,"b":31,"m":7,"r":8,"c":3},
{"p":"c","d":"2006-11-03","K":47,"B":31,"M":8,"R":10,"C":5,"k":44,"b":26,"m":9,"r":11,"c":4},
{"p":"c","d":"2006-11-08","K":45,"B":28,"M":9,"R":11,"C":4,"k":55,"b":33,"m":10,"r":14,"c":5},
{"p":"c","d":"2006-11-13","K":46,"B":26,"M":8,"R":13,"C":4,"k":35,"b":24,"m":9,"r":16,"c":3},
{"p":"c","d":"2006-11-18","K":44,"B":29,"M":7,"R":12,"C":5,"k":50,"b":31,"m":8,"r":10,"c":4},
{"p":"c","d":"2006-11-23","K":47,"B":32,"M":8,"R":14,"C":4,"k":67,"b":55,"m":7,"r":15,"c":5},
{"p":"c","d":"2006-11-28","K":43,"B":35,"M":9,"R":13,"C":5,"k":22,"b":38,"m":10,"r":12,"c":4},
{"p":"c","d":"2006-12-03","K":45,"B":34,"M":7,"R":12,"C":4,"k":70,"b":30,"m":8,"r":39,"c":3},
{"p":"c","d":"2006-12-08","K":42,"B":37,"M":8,"R":11,"C":5,"k":56,"b":62,"m":9,"r":13,"c":4},
{"p":"c","d":"2006-12-13","K":46,"B":36,"M":7,"R":12,"C":4,"k":47,"b":34,"m":6,"r":10,"c":5},
{"p":"c","d":"2006-12-18","K":43,"B":38,"M":8,"R":10,"C":5,"k":27,"b":40,"m":9,"r":12,"c":4},
{"p":"c","d":"2006-12-23","K":45,"B":35,"M":7,"R":11,"C":4,"k":59,"b":33,"m":8,"r":9,"c":5},
{"p":"c","d":"2006-12-28","K":42,"B":39,"M":8,"R":10,"C":5,"k":40,"b":42,"m":9,"r":11,"c":3},
{"p":"c","d":"2007-01-02","K":46,"B":37,"M":7,"R":9,"C":4,"k":48,"b":27,"m":6,"r":8,"c":5},
{"p":"c","d":"2007-01-07","K":44,"B":40,"M":8,"R":11,"C":5,"k":53,"b":44,"m":7,"r":10,"c":4},
{"p":"c","d":"2007-01-12","K":41,"B":38,"M":7,"R":10,"C":4,"k":36,"b":35,"m":8,"r":9,"c":5},
{"p":"c","d":"2007-01-17","K":45,"B":41,"M":8,"R":9,"C":5,"k":52,"b":47,"m":9,"r":12,"c":4},
{"p":"c","d":"2007-01-22","K":43,"B":39,"M":7,"R":10,"C":4,"k":58,"b":36,"m":6,"r":8,"c":5},
{"p":"c","d":"2007-01-27","K":40,"B":43,"M":8,"R":12,"C":5,"k":33,"b":65,"m":9,"r":14,"c":3},
{"p":"c","d":"2007-02-01","K":44,"B":41,"M":7,"R":14,"C":4,"k":50,"b":38,"m":8,"r":18,"c":5},
{"p":"c","d":"2007-02-06","K":40,"B":46,"M":8,"R":18,"C":5,"k":46,"b":50,"m":7,"r":21,"c":4},
{"p":"c","d":"2007-02-11","K":33,"B":44,"M":7,"R":20,"C":4,"k":30,"b":42,"m":6,"r":22,"c":5},
{"p":"c","d":"2007-02-16","K":30,"B":47,"M":8,"R":17,"C":5,"k":28,"b":66,"m":9,"r":15,"c":4},
{"p":"c","d":"2007-02-21","K":36,"B":42,"M":7,"R":19,"C":4,"k":38,"b":45,"m":8,"r":12,"c":5},
{"p":"c","d":"2007-02-26","K":42,"B":45,"M":8,"R":16,"C":5,"k":34,"b":40,"m":7,"r":24,"c":3},
{"p":"c","d":"2007-03-03","K":44,"B":40,"M":7,"R":15,"C":4,"k":75,"b":44,"m":6,"r":18,"c":5},
{"p":"c","d":"2007-03-08","K":46,"B":43,"M":6,"R":14,"C":5,"k":44,"b":37,"m":7,"r":12,"c":4},
{"p":"c","d":"2007-03-13","K":42,"B":39,"M":7,"R":12,"C":4,"k":60,"b":46,"m":8,"r":16,"c":5},
{"p":"c","d":"2007-03-18","K":45,"B":41,"M":6,"R":11,"C":5,"k":40,"b":35,"m":7,"r":9,"c":4},
{"p":"c","d":"2007-03-23","K":43,"B":38,"M":7,"R":10,"C":4,"k":55,"b":42,"m":6,"r":12,"c":6},
{"p":"c","d":"2007-03-28","K":41,"B":42,"M":6,"R":9,"C":5,"k":38,"b":55,"m":7,"r":8,"c":4},
{"p":"c","d":"2007-04-02","K":44,"B":39,"M":7,"R":10,"C":4,"k":50,"b":36,"m":8,"r":11,"c":5},
{"p":"c","d":"2007-04-07","K":42,"B":41,"M":6,"R":8,"C":5,"k":46,"b":44,"m":5,"r":7,"c":4},
{"p":"c","d":"2007-04-12","K":45,"B":38,"M":7,"R":9,"C":4,"k":48,"b":33,"m":6,"r":10,"c":5},
{"p":"c","d":"2007-04-17","K":43,"B":40,"M":6,"R":8,"C":5,"k":40,"b":45,"m":7,"r":6,"c":4},
{"p":"c","d":"2007-04-22","K":46,"B":42,"M":7,"R":7,"C":4,"k":55,"b":38,"m":6,"r":9,"c":5},
{"p":"c","d":"2007-04-27","K":44,"B":39,"M":8,"R":6,"C":5,"k":52,"b":25,"m":9,"r":5,"c":4},
{"p":"c","d":"2007-05-02","K":45,"B":41,"M":7,"R":5,"C":4,"k":64,"b":93,"m":6,"r":4,"c":5},
{"p":"c","d":"2007-05-07","K":47,"B":43,"M":6,"R":5,"C":5,"k":13,"b":77,"m":7,"r":3,"c":4},
{"p":"c","d":"2007-05-12","K":44,"B":40,"M":7,"R":4,"C":4,"k":50,"b":64,"m":5,"r":6,"c":6},
{"p":"c","d":"2007-05-16","K":48,"B":42,"M":6,"R":5,"C":5,"k":38,"b":44,"m":7,"r":4,"c":5},
{"p":"c","d":"2007-05-29","g":1,"K":50,"B":38,"M":5,"R":4,"C":7,"k":46,"b":35,"m":4,"r":5,"c":9},
{"p":"c","d":"2007-06-02","g":1,"K":52,"B":33,"M":4,"R":5,"C":8,"k":58,"b":62,"m":5,"r":3,"c":10},
{"p":"c","d":"2007-06-06","g":1,"K":48,"B":36,"M":5,"R":4,"C":7,"k":55,"b":28,"m":4,"r":6,"c":12},
{"p":"c","d":"2007-06-10","g":1,"K":55,"B":32,"M":4,"R":5,"C":9,"k":60,"b":40,"m":5,"r":4,"c":18},
{"p":"c","d":"2007-06-14","g":1,"K":53,"B":38,"M":5,"R":6,"C":8,"k":82,"b":30,"m":6,"r":13,"c":11},
{"p":"c","d":"2006-06-19","k":26,"b":42,"m":14,"r":4,"c":9},
{"p":"c","d":"2006-06-24","k":30,"b":43,"m":15,"r":3,"c":11},
{"p":"c","d":"2006-06-29","k":33,"b":42,"m":14,"r":4,"c":7},
{"p":"c","d":"2006-07-04","k":34,"b":41,"m":12,"r":3,"c":9},
{"p":"c","d":"2006-07-09","k":36,"b":40,"m":13,"r":4,"c":8},
{"p":"c","d":"2006-07-14","k":36,"b":39,"m":12,"r":3,"c":11},
{"p":"c","d":"2006-07-19","k":38,"b":43,"m":11,"r":2,"c":9},
{"p":"c","d":"2006-07-24","k":39,"b":41,"m":11,"r":3,"c":10},
{"p":"c","d":"2006-07-29","k":36,"b":40,"m":12,"r":4,"c":10},
{"p":"c","d":"2006-08-03","k":36,"b":40,"m":15,"r":3,"c":8},
{"p":"c","d":"2006-08-08","k":35,"b":39,"m":16,"r":4,"c":10},
{"p":"c","d":"2006-08-13","k":36,"b":39,"m":16,"r":3,"c":11},
{"p":"c","d":"2006-08-18","k":37,"b":40,"m":16,"r":4,"c":12},
{"p":"c","d":"2006-08-23","k":38,"b":41,"m":15,"r":3,"c":11},
{"p":"c","d":"2006-08-28","k":40,"b":39,"m":15,"r":4,"c":8},
{"p":"c","d":"2006-09-02","k":41,"b":41,"m":14,"r":5,"c":6},
{"p":"c","d":"2006-09-07","k":42,"b":42,"m":12,"r":5,"c":5},
{"p":"c","d":"2006-09-12","k":45,"b":39,"m":11,"r":6,"c":5},
{"p":"c","d":"2006-09-17","k":45,"b":41,"m":12,"r":5,"c":5},
{"p":"c","d":"2006-09-22","k":46,"b":43,"m":11,"r":7,"c":4},
{"p":"c","d":"2006-09-27","k":46,"b":39,"m":10,"r":8,"c":5},
{"p":"c","d":"2006-10-02","k":47,"b":35,"m":10,"r":8,"c":4},
{"p":"c","d":"2006-10-07","k":50,"b":32,"m":10,"r":9,"c":5},
{"p":"c","d":"2006-10-12","k":52,"b":32,"m":9,"r":9,"c":4},
{"p":"c","d":"2006-10-17","k":51,"b":31,"m":10,"r":10,"c":5},
{"p":"c","d":"2006-10-22","k":49,"b":31,"m":9,"r":10,"c":4},
{"p":"c","d":"2006-10-27","k":49,"b":30,"m":8,"r":9,"c":4},
{"p":"c","d":"2006-11-01","k":48,"b":30,"m":9,"r":10,"c":5},
{"p":"c","d":"2006-11-06","k":46,"b":29,"m":8,"r":10,"c":4},
{"p":"c","d":"2006-11-11","k":45,"b":27,"m":9,"r":12,"c":4},
{"p":"c","d":"2006-11-16","k":45,"b":28,"m":8,"r":12,"c":5},
{"p":"c","d":"2006-11-21","k":45,"b":30,"m":7,"r":13,"c":4},
{"p":"c","d":"2006-11-26","k":45,"b":33,"m":8,"r":13,"c":5},
{"p":"c","d":"2006-12-01","k":44,"b":34,"m":8,"r":12,"c":4},
{"p":"c","d":"2006-12-06","k":43,"b":36,"m":7,"r":11,"c":5},
{"p":"c","d":"2006-12-11","k":44,"b":36,"m":8,"r":12,"c":4},
{"p":"c","d":"2006-12-16","k":44,"b":37,"m":7,"r":11,"c":5},
{"p":"c","d":"2006-12-21","k":44,"b":36,"m":8,"r":10,"c":4},
{"p":"c","d":"2006-12-26","k":43,"b":37,"m":7,"r":11,"c":5},
{"p":"c","d":"2006-12-31","k":44,"b":38,"m":8,"r":9,"c":4},
{"p":"c","d":"2007-01-05","k":45,"b":38,"m":7,"r":10,"c":5},
{"p":"c","d":"2007-01-10","k":43,"b":39,"m":8,"r":10,"c":4},
{"p":"c","d":"2007-01-15","k":43,"b":39,"m":7,"r":10,"c":5},
{"p":"c","d":"2007-01-20","k":44,"b":40,"m":8,"r":9,"c":4},
{"p":"c","d":"2007-01-25","k":41,"b":41,"m":7,"r":11,"c":5},
{"p":"c","d":"2007-01-30","k":42,"b":42,"m":8,"r":13,"c":4},
{"p":"c","d":"2007-02-04","k":42,"b":43,"m":7,"r":16,"c":5},
{"p":"c","d":"2007-02-09","k":37,"b":45,"m":8,"r":19,"c":4},
{"p":"c","d":"2007-02-14","k":31,"b":45,"m":7,"r":19,"c":5},
{"p":"c","d":"2007-02-19","k":33,"b":44,"m":8,"r":18,"c":4},
{"p":"c","d":"2007-02-24","k":39,"b":43,"m":7,"r":17,"c":5},
{"p":"c","d":"2007-03-01","k":43,"b":42,"m":8,"r":15,"c":4},
{"p":"c","d":"2007-03-06","k":45,"b":41,"m":7,"r":14,"c":5},
{"p":"c","d":"2007-03-11","k":44,"b":41,"m":6,"r":13,"c":4},
{"p":"c","d":"2007-03-16","k":43,"b":40,"m":7,"r":11,"c":5},
{"p":"c","d":"2007-03-21","k":44,"b":39,"m":6,"r":10,"c":4},
{"p":"c","d":"2007-03-26","k":42,"b":40,"m":7,"r":9,"c":5},
{"p":"c","d":"2007-03-31","k":42,"b":41,"m":6,"r":9,"c":4},
{"p":"c","d":"2007-04-05","k":43,"b":40,"m":7,"r":9,"c":5},
{"p":"c","d":"2007-04-10","k":43,"b":39,"m":6,"r":8,"c":4},
{"p":"c","d":"2007-04-15","k":44,"b":39,"m":7,"r":8,"c":5},
{"p":"c","d":"2007-04-20","k":44,"b":41,"m":6,"r":7,"c":4},
{"p":"c","d":"2007-04-25","k":45,"b":40,"m":7,"r":6,"c":5},
{"p":"c","d":"2007-04-30","k":44,"b":40,"m":8,"r":5,"c":4},
{"p":"c","d":"2007-05-05","k":46,"b":42,"m":6,"r":5,"c":5},
{"p":"c","d":"2007-05-10","k":45,"b":41,"m":7,"r":4,"c":4},
{"p":"c","d":"2007-05-14","k":46,"b":41,"m":6,"r":5,"c":5},
{"p":"c","d":"2007-05-31","k":51,"b":35,"m":4,"r":5,"c":8},
{"p":"c","d":"2007-06-04","k":50,"b":34,"m":5,"r":4,"c":7},
{"p":"c","d":"2007-06-08","k":52,"b":34,"m":4,"r":5,"c":8},
{"p":"c","d":"2007-06-12","k":54,"b":35,"m":5,"r":5,"c":9},
{"p":"d","d":"2006-06-16","K":38,"B":26,"R":33,"M":3,"C":7,"k":36,"b":30,"r":37,"m":3,"c":9},
{"p":"d","d":"2006-06-21","K":46,"B":24,"R":28,"M":3,"C":6,"k":55,"b":22,"r":25,"m":2,"c":10},
{"p":"d","d":"2006-06-26","K":50,"B":27,"R":24,"M":2,"C":7,"k":40,"b":31,"r":33,"m":3,"c":5},
{"p":"d","d":"2006-07-01","K":55,"B":22,"R":26,"M":3,"C":6,"k":86,"b":25,"r":20,"m":2,"c":8},
{"p":"d","d":"2006-07-06","K":60,"B":24,"R":20,"M":3,"C":5,"k":80,"b":20,"r":23,"m":4,"c":6},
{"p":"d","d":"2006-07-11","K":66,"B":21,"R":18,"M":2,"C":6,"k":55,"b":25,"r":15,"m":3,"c":9},
{"p":"d","d":"2006-07-16","K":58,"B":23,"R":22,"M":3,"C":5,"k":98,"b":30,"r":17,"m":2,"c":7},
{"p":"d","d":"2006-07-21","K":65,"B":26,"R":15,"M":3,"C":6,"k":53,"b":54,"r":19,"m":3,"c":5},
{"p":"d","d":"2006-07-26","K":72,"B":24,"R":17,"M":2,"C":7,"k":87,"b":22,"r":12,"m":2,"c":10},
{"p":"d","d":"2006-07-31","K":68,"B":22,"R":12,"M":3,"C":6,"k":62,"b":40,"r":14,"m":3,"c":5},
{"p":"d","d":"2006-08-05","K":76,"B":24,"R":8,"M":3,"C":5,"k":78,"b":27,"r":5,"m":2,"c":8},
{"p":"d","d":"2006-08-10","K":70,"B":21,"R":12,"M":2,"C":6,"k":88,"b":18,"r":10,"m":3,"c":4},
{"p":"d","d":"2006-08-15","K":64,"B":25,"R":15,"M":3,"C":5,"k":50,"b":40,"r":36,"m":2,"c":7},
{"p":"d","d":"2006-08-20","K":56,"B":22,"R":18,"M":2,"C":4,"k":58,"b":26,"r":22,"m":3,"c":5},
{"p":"d","d":"2006-08-25","K":52,"B":20,"R":12,"M":2,"C":4,"k":47,"b":14,"r":33,"m":2,"c":3},
{"p":"d","d":"2006-08-30","K":60,"B":23,"R":16,"M":3,"C":3,"k":84,"b":28,"r":8,"m":2,"c":4},
{"p":"d","d":"2006-09-04","K":50,"B":21,"R":14,"M":2,"C":3,"k":47,"b":24,"r":20,"m":3,"c":3},
{"p":"d","d":"2006-09-09","K":58,"B":24,"R":18,"M":3,"C":3,"k":54,"b":17,"r":12,"m":2,"c":4},
{"p":"d","d":"2006-09-14","K":66,"B":22,"R":15,"M":2,"C":3,"k":41,"b":40,"r":22,"m":3,"c":3},
{"p":"d","d":"2006-09-19","K":70,"B":25,"R":12,"M":2,"C":3,"k":88,"b":28,"r":10,"m":2,"c":2},
{"p":"d","d":"2006-09-24","K":65,"B":28,"R":10,"M":3,"C":3,"k":60,"b":48,"r":15,"m":2,"c":3},
{"p":"d","d":"2006-09-29","K":68,"B":32,"R":13,"M":2,"C":3,"k":46,"b":36,"r":9,"m":3,"c":2},
{"p":"d","d":"2006-10-04","K":52,"B":30,"R":9,"M":2,"C":3,"k":45,"b":44,"r":12,"m":2,"c":3},
{"p":"d","d":"2006-10-09","K":66,"B":20,"R":12,"M":2,"C":3,"k":88,"b":17,"r":34,"m":3,"c":2},
{"p":"d","d":"2006-10-14","K":70,"B":16,"R":10,"M":2,"C":3,"k":82,"b":12,"r":14,"m":2,"c":3},
{"p":"d","d":"2006-10-19","K":74,"B":14,"R":14,"M":2,"C":3,"k":92,"b":10,"r":8,"m":2,"c":2},
{"p":"d","d":"2006-10-24","K":76,"B":13,"R":11,"M":2,"C":3,"k":62,"b":17,"r":15,"m":2,"c":3},
{"p":"d","d":"2006-10-29","K":72,"B":15,"R":9,"M":2,"C":3,"k":89,"b":9,"r":6,"m":2,"c":2},
{"p":"d","d":"2006-11-03","K":68,"B":14,"R":13,"M":2,"C":3,"k":55,"b":18,"r":36,"m":2,"c":3},
{"p":"d","d":"2006-11-08","K":62,"B":16,"R":18,"M":2,"C":3,"k":75,"b":12,"r":22,"m":2,"c":2},
{"p":"d","d":"2006-11-13","K":65,"B":15,"R":20,"M":2,"C":3,"k":50,"b":20,"r":26,"m":2,"c":3},
{"p":"d","d":"2006-11-18","K":60,"B":17,"R":22,"M":2,"C":3,"k":53,"b":13,"r":44,"m":2,"c":2},
{"p":"d","d":"2006-11-23","K":68,"B":18,"R":18,"M":2,"C":3,"k":96,"b":22,"r":15,"m":2,"c":3},
{"p":"d","d":"2006-11-28","K":72,"B":16,"R":24,"M":2,"C":3,"k":90,"b":14,"r":40,"m":2,"c":2},
{"p":"d","d":"2006-12-03","K":62,"B":19,"R":20,"M":2,"C":3,"k":36,"b":23,"r":27,"m":2,"c":3},
{"p":"d","d":"2006-12-08","K":58,"B":18,"R":25,"M":2,"C":3,"k":44,"b":15,"r":42,"m":2,"c":2},
{"p":"d","d":"2006-12-13","K":56,"B":20,"R":22,"M":2,"C":3,"k":80,"b":24,"r":19,"m":2,"c":3},
{"p":"d","d":"2006-12-18","K":60,"B":18,"R":27,"M":2,"C":3,"k":52,"b":14,"r":30,"m":2,"c":2},
{"p":"d","d":"2006-12-23","K":55,"B":19,"R":23,"M":2,"C":3,"k":84,"b":22,"r":40,"m":2,"c":3},
{"p":"d","d":"2006-12-28","K":62,"B":17,"R":28,"M":2,"C":3,"k":60,"b":13,"r":24,"m":2,"c":2},
{"p":"d","d":"2007-01-02","K":58,"B":20,"R":25,"M":2,"C":3,"k":68,"b":24,"r":75,"m":2,"c":3},
{"p":"d","d":"2007-01-07","K":55,"B":18,"R":30,"M":2,"C":3,"k":44,"b":15,"r":33,"m":2,"c":2},
{"p":"d","d":"2007-01-12","K":58,"B":19,"R":32,"M":2,"C":3,"k":65,"b":23,"r":38,"m":2,"c":3},
{"p":"d","d":"2007-01-17","K":52,"B":17,"R":28,"M":2,"C":3,"k":48,"b":12,"r":35,"m":2,"c":2},
{"p":"d","d":"2007-01-22","K":55,"B":20,"R":31,"M":2,"C":3,"k":60,"b":48,"r":25,"m":2,"c":3},
{"p":"d","d":"2007-01-27","K":50,"B":18,"R":27,"M":2,"C":3,"k":44,"b":14,"r":32,"m":2,"c":2},
{"p":"d","d":"2007-02-01","K":56,"B":19,"R":29,"M":2,"C":3,"k":66,"b":22,"r":26,"m":2,"c":3},
{"p":"d","d":"2007-02-06","K":54,"B":17,"R":30,"M":2,"C":3,"k":40,"b":13,"r":67,"m":2,"c":2},
{"p":"d","d":"2007-02-11","K":58,"B":20,"R":28,"M":2,"C":4,"k":87,"b":25,"r":34,"m":2,"c":5},
{"p":"d","d":"2007-02-16","K":52,"B":18,"R":31,"M":2,"C":3,"k":78,"b":42,"r":37,"m":2,"c":2},
{"p":"d","d":"2007-02-21","K":56,"B":21,"R":26,"M":2,"C":3,"k":50,"b":16,"r":30,"m":2,"c":3},
{"p":"d","d":"2007-02-26","K":54,"B":19,"R":29,"M":2,"C":3,"k":47,"b":24,"r":24,"m":2,"c":2},
{"p":"d","d":"2007-03-03","K":60,"B":20,"R":27,"M":2,"C":3,"k":83,"b":15,"r":33,"m":2,"c":3},
{"p":"d","d":"2007-03-08","K":57,"B":18,"R":30,"M":2,"C":3,"k":50,"b":23,"r":40,"m":2,"c":2},
{"p":"d","d":"2007-03-13","K":62,"B":22,"R":25,"M":2,"C":3,"k":94,"b":17,"r":28,"m":2,"c":3},
{"p":"d","d":"2007-03-18","K":66,"B":20,"R":28,"M":2,"C":3,"k":55,"b":27,"r":71,"m":2,"c":2},
{"p":"d","d":"2007-03-23","K":60,"B":23,"R":22,"M":2,"C":3,"k":86,"b":19,"r":26,"m":2,"c":3},
{"p":"d","d":"2007-03-28","K":55,"B":21,"R":19,"M":2,"C":4,"k":47,"b":28,"r":15,"m":2,"c":5},
{"p":"d","d":"2007-04-02","K":58,"B":20,"R":24,"M":2,"C":4,"k":80,"b":15,"r":36,"m":2,"c":8},
{"p":"d","d":"2007-04-07","K":54,"B":22,"R":20,"M":2,"C":4,"k":42,"b":26,"r":25,"m":2,"c":4},
{"p":"d","d":"2007-04-12","K":60,"B":19,"R":22,"M":2,"C":3,"k":62,"b":14,"r":18,"m":2,"c":3},
{"p":"d","d":"2007-04-17","K":55,"B":21,"R":18,"M":2,"C":3,"k":50,"b":25,"r":40,"m":2,"c":2},
{"p":"d","d":"2007-04-22","K":58,"B":23,"R":20,"M":2,"C":3,"k":54,"b":18,"r":22,"m":2,"c":3},
{"p":"d","d":"2007-04-27","K":64,"B":20,"R":10,"M":2,"C":3,"k":85,"b":25,"r":6,"m":2,"c":2},
{"p":"d","d":"2007-05-02","K":70,"B":22,"R":6,"M":2,"C":3,"k":80,"b":16,"r":4,"m":2,"c":3},
{"p":"d","d":"2007-05-07","K":64,"B":25,"R":4,"M":2,"C":3,"k":56,"b":56,"r":8,"m":2,"c":2},
{"p":"d","d":"2007-05-12","K":75,"B":34,"R":3,"M":2,"C":3,"k":94,"b":30,"r":2,"m":2,"c":3},
{"p":"d","d":"2007-05-16","K":62,"B":24,"R":2,"M":2,"C":3,"k":44,"b":20,"r":3,"m":2,"c":2},
{"p":"d","d":"2007-05-29","g":1,"K":85,"B":18,"R":4,"M":2,"C":3,"k":82,"b":10,"r":3,"m":2,"c":4},
{"p":"d","d":"2007-06-02","g":1,"K":78,"B":20,"R":3,"M":2,"C":3,"k":88,"b":15,"r":5,"m":2,"c":3},
{"p":"d","d":"2007-06-06","g":1,"K":82,"B":14,"R":6,"M":2,"C":3,"k":92,"b":22,"r":4,"m":2,"c":2},
{"p":"d","d":"2007-06-10","g":1,"K":76,"B":17,"R":3,"M":2,"C":3,"k":70,"b":30,"r":5,"m":2,"c":3},
{"p":"d","d":"2007-06-14","g":1,"K":84,"B":15,"R":5,"M":2,"C":3,"k":90,"b":56,"r":8,"m":2,"c":2},
{"p":"d","d":"2006-06-19","k":42,"b":25,"r":30,"m":3,"c":7},
{"p":"d","d":"2006-06-24","k":48,"b":26,"r":26,"m":2,"c":6},
{"p":"d","d":"2006-06-29","k":52,"b":24,"r":25,"m":3,"c":7},
{"p":"d","d":"2006-07-04","k":58,"b":23,"r":23,"m":2,"c":6},
{"p":"d","d":"2006-07-09","k":63,"b":22,"r":19,"m":3,"c":5},
{"p":"d","d":"2006-07-14","k":62,"b":22,"r":20,"m":3,"c":6},
{"p":"d","d":"2006-07-19","k":62,"b":25,"r":18,"m":2,"c":5},
{"p":"d","d":"2006-07-24","k":68,"b":25,"r":16,"m":3,"c":6},
{"p":"d","d":"2006-07-29","k":70,"b":23,"r":14,"m":2,"c":6},
{"p":"d","d":"2006-08-03","k":72,"b":23,"r":10,"m":3,"c":5},
{"p":"d","d":"2006-08-08","k":73,"b":22,"r":10,"m":2,"c":6},
{"p":"d","d":"2006-08-13","k":67,"b":23,"r":13,"m":3,"c":5},
{"p":"d","d":"2006-08-18","k":60,"b":23,"r":16,"m":2,"c":4},
{"p":"d","d":"2006-08-23","k":54,"b":21,"r":15,"m":2,"c":4},
{"p":"d","d":"2006-08-28","k":56,"b":22,"r":14,"m":2,"c":3},
{"p":"d","d":"2006-09-02","k":55,"b":22,"r":15,"m":2,"c":3},
{"p":"d","d":"2006-09-07","k":54,"b":23,"r":16,"m":2,"c":3},
{"p":"d","d":"2006-09-12","k":62,"b":23,"r":16,"m":2,"c":3},
{"p":"d","d":"2006-09-17","k":68,"b":24,"r":13,"m":2,"c":3},
{"p":"d","d":"2006-09-22","k":67,"b":27,"r":11,"m":2,"c":3},
{"p":"d","d":"2006-09-27","k":66,"b":30,"r":12,"m":2,"c":3},
{"p":"d","d":"2006-10-02","k":60,"b":31,"r":11,"m":2,"c":3},
{"p":"d","d":"2006-10-07","k":59,"b":25,"r":10,"m":2,"c":3},
{"p":"d","d":"2006-10-12","k":68,"b":18,"r":11,"m":2,"c":3},
{"p":"d","d":"2006-10-17","k":72,"b":15,"r":12,"m":2,"c":3},
{"p":"d","d":"2006-10-22","k":75,"b":13,"r":12,"m":2,"c":3},
{"p":"d","d":"2006-10-27","k":74,"b":14,"r":10,"m":2,"c":3},
{"p":"d","d":"2006-11-01","k":70,"b":14,"r":11,"m":2,"c":3},
{"p":"d","d":"2006-11-06","k":65,"b":15,"r":16,"m":2,"c":3},
{"p":"d","d":"2006-11-11","k":63,"b":16,"r":19,"m":2,"c":3},
{"p":"d","d":"2006-11-16","k":62,"b":16,"r":21,"m":2,"c":3},
{"p":"d","d":"2006-11-21","k":64,"b":17,"r":20,"m":2,"c":3},
{"p":"d","d":"2006-11-26","k":70,"b":17,"r":21,"m":2,"c":3},
{"p":"d","d":"2006-12-01","k":67,"b":18,"r":22,"m":2,"c":3},
{"p":"d","d":"2006-12-06","k":60,"b":18,"r":23,"m":2,"c":3},
{"p":"d","d":"2006-12-11","k":57,"b":19,"r":23,"m":2,"c":3},
{"p":"d","d":"2006-12-16","k":58,"b":19,"r":25,"m":2,"c":3},
{"p":"d","d":"2006-12-21","k":57,"b":18,"r":25,"m":2,"c":3},
{"p":"d","d":"2006-12-26","k":59,"b":18,"r":26,"m":2,"c":3},
{"p":"d","d":"2006-12-31","k":60,"b":19,"r":26,"m":2,"c":3},
{"p":"d","d":"2007-01-05","k":56,"b":19,"r":28,"m":2,"c":3},
{"p":"d","d":"2007-01-10","k":57,"b":18,"r":31,"m":2,"c":3},
{"p":"d","d":"2007-01-15","k":55,"b":18,"r":30,"m":2,"c":3},
{"p":"d","d":"2007-01-20","k":54,"b":19,"r":30,"m":2,"c":3},
{"p":"d","d":"2007-01-25","k":52,"b":19,"r":29,"m":2,"c":3},
{"p":"d","d":"2007-01-30","k":53,"b":18,"r":28,"m":2,"c":3},
{"p":"d","d":"2007-02-04","k":55,"b":18,"r":30,"m":2,"c":3},
{"p":"d","d":"2007-02-09","k":56,"b":19,"r":29,"m":2,"c":3},
{"p":"d","d":"2007-02-14","k":55,"b":19,"r":30,"m":2,"c":3},
{"p":"d","d":"2007-02-19","k":54,"b":20,"r":28,"m":2,"c":3},
{"p":"d","d":"2007-02-24","k":55,"b":20,"r":27,"m":2,"c":3},
{"p":"d","d":"2007-03-01","k":57,"b":20,"r":28,"m":2,"c":3},
{"p":"d","d":"2007-03-06","k":58,"b":19,"r":29,"m":2,"c":3},
{"p":"d","d":"2007-03-11","k":60,"b":20,"r":27,"m":2,"c":3},
{"p":"d","d":"2007-03-16","k":64,"b":21,"r":26,"m":2,"c":3},
{"p":"d","d":"2007-03-21","k":63,"b":22,"r":25,"m":2,"c":3},
{"p":"d","d":"2007-03-26","k":57,"b":22,"r":20,"m":2,"c":3},
{"p":"d","d":"2007-03-31","k":56,"b":21,"r":22,"m":2,"c":4},
{"p":"d","d":"2007-04-05","k":56,"b":21,"r":22,"m":2,"c":4},
{"p":"d","d":"2007-04-10","k":57,"b":20,"r":21,"m":2,"c":3},
{"p":"d","d":"2007-04-15","k":57,"b":20,"r":20,"m":2,"c":3},
{"p":"d","d":"2007-04-20","k":57,"b":22,"r":19,"m":2,"c":3},
{"p":"d","d":"2007-04-25","k":61,"b":21,"r":15,"m":2,"c":3},
{"p":"d","d":"2007-04-30","k":67,"b":21,"r":8,"m":2,"c":3},
{"p":"d","d":"2007-05-05","k":67,"b":23,"r":5,"m":2,"c":3},
{"p":"d","d":"2007-05-10","k":70,"b":30,"r":3,"m":2,"c":3},
{"p":"d","d":"2007-05-14","k":68,"b":29,"r":3,"m":2,"c":3},
{"p":"d","d":"2007-05-31","k":81,"b":19,"r":4,"m":2,"c":3},
{"p":"d","d":"2007-06-04","k":80,"b":17,"r":5,"m":2,"c":3},
{"p":"d","d":"2007-06-08","k":79,"b":15,"r":4,"m":2,"c":3},
{"p":"d","d":"2007-06-12","k":80,"b":16,"r":4,"m":2,"c":3}
]},
"data":{"name":"v"},
"bounds":"flush",
"columns":2,
"spacing":{"row":117,"column":120},
"resolve":{"scale":{"x":"independent","y":"independent"}},
"concat":[
{"width":355,"height":268,"view":{"stroke":"black","strokeWidth":3},"title":{"text":"24-hour Integrated Samples"},
"transform":[{"filter":"datum.p=='a'"}],
"encoding":{
"x":{"field":"d","type":"temporal","scale":{"domain":[{"year":2006,"month":6,"date":15},{"year":2007,"month":6,"date":16}]},"axis":{"title":null,"values":[{"year":2006,"month":6,"date":15},{"year":2006,"month":8,"date":1},{"year":2006,"month":10,"date":1},{"year":2006,"month":12,"date":1},{"year":2007,"month":2,"date":1},{"year":2007,"month":4,"date":1},{"year":2007,"month":6,"date":1}],"labelOffset":{"condition":{"test":"year(datum.value)==2006 && month(datum.value)==5","value":-2},"value":0},"labelExpr":"year(datum.value)==2006 && month(datum.value)==5 ? '06/Jun' : timeFormat(datum.value, '%b')"}},
"y":{"field":"value","type":"quantitative","scale":{"domain":[0,80]},"axis":{"title":"ppbC fraction","values":[0,10,20,30,40,50,60,70,80],"labelExpr":"datum.value==0 ? '0' : datum.value + '%'","titleX":-67,"titleY":134,"titleBaseline":"middle","titleAngle":-90,"titleAlign":"center"}},
"color":{"field":"key","type":"nominal","legend":null,"scale":{"domain":["k","b","r","m","c","K","B","R","M","C"],"range":["#000000","#2a1fe6","#d21f1f","#d41ef0","#72e6e6","#000000","#2a1fe6","#d21f1f","#d41ef0","#72e6e6"]}}
},
"layer":[
{"transform":[{"fold":["c","m","b","r","k","C","M","B","R","K"]},{"filter":"isValid(datum.value)"}],"mark":{"type":"point","filled":true,"size":26,"opacity":1,"shape":"circle"}},
{"transform":[{"fold":["C","M","B","R","K"]},{"filter":"isValid(datum.value)"}],"mark":{"type":"line","strokeWidth":2.8},"encoding":{"detail":{"field":"g","type":"nominal"}}}
]},
{"width":355,"height":268,"view":{"stroke":"black","strokeWidth":3},"title":{"text":"24-hour Integrated Samples"},
"transform":[{"filter":"datum.p=='b'"}],
"encoding":{
"x":{"field":"d","type":"temporal","scale":{"domain":[{"year":2006,"month":6,"date":15},{"year":2007,"month":6,"date":16}]},"axis":{"title":null,"values":[{"year":2006,"month":6,"date":15},{"year":2006,"month":8,"date":1},{"year":2006,"month":10,"date":1},{"year":2006,"month":12,"date":1},{"year":2007,"month":2,"date":1},{"year":2007,"month":4,"date":1},{"year":2007,"month":6,"date":1}],"labelOffset":{"condition":{"test":"year(datum.value)==2006 && month(datum.value)==5","value":-2},"value":0},"labelExpr":"year(datum.value)==2006 && month(datum.value)==5 ? '06/Jun' : timeFormat(datum.value, '%b')"}},
"y":{"field":"value","type":"quantitative","scale":{"domain":[0,100]},"axis":{"title":"OH-reacvtivity fraction","values":[0,10,20,30,40,50,60,70,80,90,100],"labelExpr":"datum.value==0 ? '0' : datum.value==100 ? '(b)100%' : datum.value + '%'","titleX":-79,"titleY":130,"titleBaseline":"middle","titleAngle":-90,"titleAlign":"center"}},
"color":{"field":"key","type":"nominal","legend":null,"scale":{"domain":["k","b","r","m","c","K","B","R","M","C"],"range":["#000000","#2a1fe6","#d21f1f","#d41ef0","#72e6e6","#000000","#2a1fe6","#d21f1f","#d41ef0","#72e6e6"]}}
},
"layer":[
{"transform":[{"fold":["c","m","b","r","k","C","M","B","R","K"]},{"filter":"isValid(datum.value)"}],"mark":{"type":"point","filled":true,"size":26,"opacity":1,"shape":"circle"}},
{"transform":[{"fold":["C","M","B","R","K"]},{"filter":"isValid(datum.value)"}],"mark":{"type":"line","strokeWidth":2.8},"encoding":{"detail":{"field":"g","type":"nominal"}}}
]},
{"width":355,"height":268,"view":{"stroke":"black","strokeWidth":3},"title":{"text":"6:00-9:00 a.m. Samples","offset":9},
"transform":[{"filter":"datum.p=='c'"}],
"encoding":{
"x":{"field":"d","type":"temporal","scale":{"domain":[{"year":2006,"month":6,"date":15},{"year":2007,"month":6,"date":16}]},"axis":{"title":null,"values":[{"year":2006,"month":6,"date":15},{"year":2006,"month":8,"date":1},{"year":2006,"month":10,"date":1},{"year":2006,"month":12,"date":1},{"year":2007,"month":2,"date":1},{"year":2007,"month":4,"date":1},{"year":2007,"month":6,"date":1}],"labelOffset":{"condition":{"test":"year(datum.value)==2006 && month(datum.value)==5","value":-2},"value":0},"labelExpr":"year(datum.value)==2006 && month(datum.value)==5 ? '06/Jun' : timeFormat(datum.value, '%b')"}},
"y":{"field":"value","type":"quantitative","scale":{"domain":[0,100]},"axis":{"title":"ppbC fraction","values":[0,10,20,30,40,50,60,70,80,90,100],"labelExpr":"datum.value==0 ? '0' : datum.value==100 ? '(c)100%' : datum.value + '%'","titleX":-75,"titleY":134,"titleBaseline":"middle","titleAngle":-90,"titleAlign":"center"}},
"color":{"field":"key","type":"nominal","legend":null,"scale":{"domain":["k","b","r","m","c","K","B","R","M","C"],"range":["#000000","#2a1fe6","#d21f1f","#d41ef0","#72e6e6","#000000","#2a1fe6","#d21f1f","#d41ef0","#72e6e6"]}}
},
"layer":[
{"transform":[{"fold":["c","m","b","r","k","C","M","B","R","K"]},{"filter":"isValid(datum.value)"}],"mark":{"type":"point","filled":true,"size":26,"opacity":1,"shape":"circle"}},
{"transform":[{"fold":["C","M","B","R","K"]},{"filter":"isValid(datum.value)"}],"mark":{"type":"line","strokeWidth":2.8},"encoding":{"detail":{"field":"g","type":"nominal"}}}
]},
{"width":355,"height":268,"view":{"stroke":"black","strokeWidth":3},"title":{"text":"6:00-9:00 a.m. Samples","offset":9},
"transform":[{"filter":"datum.p=='d'"}],
"encoding":{
"x":{"field":"d","type":"temporal","scale":{"domain":[{"year":2006,"month":6,"date":15},{"year":2007,"month":6,"date":16}]},"axis":{"title":null,"values":[{"year":2006,"month":6,"date":15},{"year":2006,"month":8,"date":1},{"year":2006,"month":10,"date":1},{"year":2006,"month":12,"date":1},{"year":2007,"month":2,"date":1},{"year":2007,"month":4,"date":1},{"year":2007,"month":6,"date":1}],"labelOffset":{"condition":{"test":"year(datum.value)==2006 && month(datum.value)==5","value":-2},"value":0},"labelExpr":"year(datum.value)==2006 && month(datum.value)==5 ? '06/Jun' : timeFormat(datum.value, '%b')"}},
"y":{"field":"value","type":"quantitative","scale":{"domain":[0,100]},"axis":{"title":"OH-reacvtivity fraction","values":[0,10,20,30,40,50,60,70,80,90,100],"labelExpr":"datum.value==0 ? '0' : datum.value==100 ? '(d)100%' : datum.value + '%'","titleX":-86,"titleY":127,"titleBaseline":"middle","titleAngle":-90,"titleAlign":"center"}},
"color":{"field":"key","type":"nominal","legend":null,"scale":{"domain":["k","b","r","m","c","K","B","R","M","C"],"range":["#000000","#2a1fe6","#d21f1f","#d41ef0","#72e6e6","#000000","#2a1fe6","#d21f1f","#d41ef0","#72e6e6"]}}
},
"layer":[
{"transform":[{"fold":["c","m","b","r","k","C","M","B","R","K"]},{"filter":"isValid(datum.value)"}],"mark":{"type":"point","filled":true,"size":26,"opacity":1,"shape":"circle"}},
{"transform":[{"fold":["C","M","B","R","K"]},{"filter":"isValid(datum.value)"}],"mark":{"type":"line","strokeWidth":2.8},"encoding":{"detail":{"field":"g","type":"nominal"}}}
]}
]
}
